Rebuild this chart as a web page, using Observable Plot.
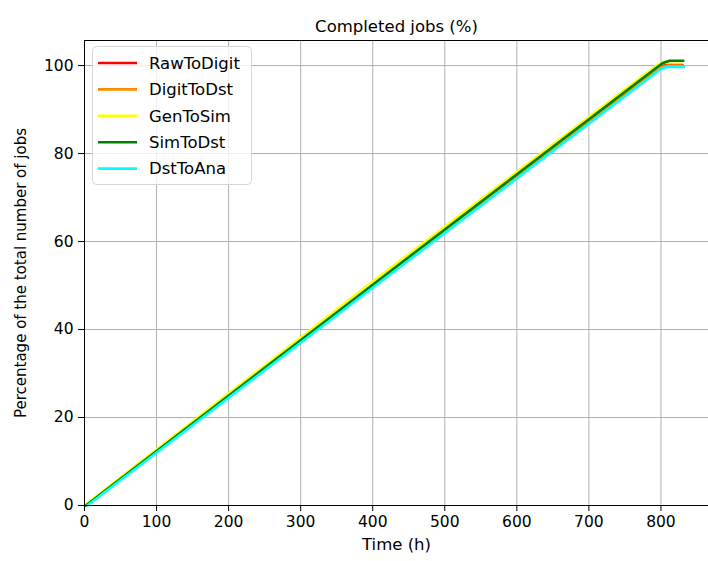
<!DOCTYPE html>
<html><head><meta charset="utf-8">
<script src="https://cdn.jsdelivr.net/npm/d3@7"></script>
<script src="https://cdn.jsdelivr.net/npm/@observablehq/plot@0.6"></script>
<style>body{margin:0;background:#fff} svg{font-family:"DejaVu Sans",sans-serif}</style>
</head><body><div id="chart"></div>
<script>
const chartTitle = "Completed jobs (%)";
const xLabel = "Time (h)";
const yLabel = "Percentage of the total number of jobs";
const seriesNames = ["RawToDigit", "DigitToDst", "GenToSim", "SimToDst", "DstToAna"];
const seriesColors = ["#ff0000", "#ff8c00", "#ffff00", "#008000", "#00ffff"];
const xTicks = [0, 100, 200, 300, 400, 500, 600, 700, 800];
const yTicks = [0, 20, 40, 60, 80, 100];

// time (h) and completed percentage for each series
const timeRawToDigit = [2, 400, 795, 802, 808, 830];
const pctRawToDigit  = [0, 50.0, 99.4, 99.9, 100.1, 100.1];
const timeDigitToDst = [2, 400, 796, 803, 809, 830];
const pctDigitToDst  = [0, 50.0, 99.3, 99.8, 100.0, 100.0];
const timeGenToSim   = [0, 400, 793, 800, 810, 829];
const pctGenToSim    = [0, 50.9, 99.9, 100.6, 101.0, 101.0];
const timeSimToDst   = [2, 400, 796, 803, 812, 831];
const pctSimToDst    = [0, 50.2, 99.8, 100.6, 101.1, 101.1];
const timeDstToAna   = [4, 400, 799, 806, 812, 832];
const pctDstToAna    = [0, 49.5, 99.1, 99.6, 99.7, 99.7];

const seriesTimes = [timeRawToDigit, timeDigitToDst, timeGenToSim, timeSimToDst, timeDstToAna];
const seriesPcts = [pctRawToDigit, pctDigitToDst, pctGenToSim, pctSimToDst, pctDstToAna];

const rows = [];
seriesNames.forEach((name, i) => {
  seriesTimes[i].forEach((t, j) => rows.push({series: name, t, pct: seriesPcts[i][j]}));
});

const plot = Plot.plot({
  width: 708,
  height: 561,
  marginLeft: 84,
  marginRight: 0,
  marginTop: 40,
  marginBottom: 56,
  style: {fontFamily: "DejaVu Sans, sans-serif", fontSize: "15px", color: "#000", background: "#fff"},
  x: {domain: [0, 866]},
  y: {domain: [0, 105.7]},
  color: {domain: seriesNames, range: seriesColors},
  marks: [
    Plot.gridX(xTicks, {stroke: "#b0b0b0", strokeOpacity: 1, strokeWidth: 1}),
    Plot.gridY(yTicks, {stroke: "#b0b0b0", strokeOpacity: 1, strokeWidth: 1}),
    Plot.line(rows, {x: "t", y: "pct", z: "series", stroke: "series", strokeWidth: 2.6}),
    Plot.frame({stroke: "#000", strokeWidth: 1}),
    Plot.axisX(xTicks, {tickSize: 6, tickPadding: 4, fontSize: 15.5, label: null}),
    Plot.axisY(yTicks, {tickSize: 6, tickPadding: 5, fontSize: 15.5, label: null}),
    Plot.text([xLabel], {frameAnchor: "bottom", dy: 44, fontSize: 16.5}),
    Plot.text([yLabel], {frameAnchor: "left", dx: -63, rotate: -90, textAnchor: "middle", fontSize: 15}),
    Plot.text([chartTitle], {frameAnchor: "top", dy: -20, fontSize: 16.5})
  ]
});
document.getElementById("chart").appendChild(plot);

// legend
const svg = d3.select(plot);
const lg = svg.append("g").attr("text-anchor", "start");
lg.append("rect").attr("x", 92.5).attr("y", 46.5).attr("width", 159).attr("height", 138)
  .attr("rx", 4).attr("fill", "#fff").attr("fill-opacity", 0.8).attr("stroke", "#d6d6d6");
seriesNames.forEach((name, i) => {
  const y = 63 + i * 26.4;
  lg.append("line").attr("x1", 98).attr("x2", 137).attr("y1", y).attr("y2", y)
    .attr("stroke", seriesColors[i]).attr("stroke-width", 2.6);
  lg.append("text").attr("x", 149).attr("y", y).attr("dy", "0.35em")
    .attr("text-anchor", "start").attr("font-size", 16.5).attr("fill", "#000").text(name);
});
</script></body></html>
